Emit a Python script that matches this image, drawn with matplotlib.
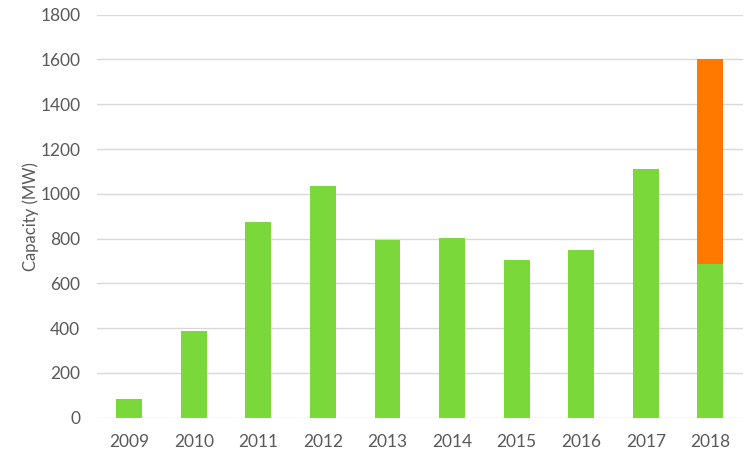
import matplotlib
matplotlib.use("Agg")
import matplotlib.pyplot as plt
import numpy as np

# ── Data ──────────────────────────────────────────────────────────────────────
years = ["2009", "2010", "2011", "2012", "2013", "2014", "2015", "2016", "2017", "2018"]
base_mw = [82, 387, 873, 1036, 792, 801, 706, 748, 1110, 685]
extra_mw = [0, 0, 0, 0, 0, 0, 0, 0, 0, 915]

GREEN = "#7AD83A"
ORANGE = "#FF7800"
TEXT = "#595959"
GRID = "#D9D9D9"

plt.rcParams["font.family"] = ["Lato", "DejaVu Sans"]

fig = plt.figure(figsize=(7.54, 4.58), dpi=100)
ax = fig.add_axes([0.1286, 0.088, 0.8564, 0.880])

x = np.arange(len(years))
ax.bar(x, base_mw, width=0.4, color=GREEN, zorder=3)
ax.bar(x, extra_mw, width=0.4, bottom=base_mw, color=ORANGE, zorder=3)

ax.set_xlim(-0.5, len(years) - 0.5)
ax.set_ylim(0, 1800)
ax.set_yticks(np.arange(0, 1801, 200))
ax.set_xticks(x)
ax.set_xticklabels(years)
ax.grid(axis="y", color=GRID, linewidth=1, zorder=0)

for s in ax.spines.values():
    s.set_visible(False)
ax.tick_params(length=0, colors=TEXT, labelsize=12.5)
ax.tick_params(axis="y", pad=12)
ax.tick_params(axis="x", pad=12)
ax.set_ylabel("Capacity (MW)", color=TEXT, fontsize=12, labelpad=1)

fig.savefig("out.png", dpi=100)
